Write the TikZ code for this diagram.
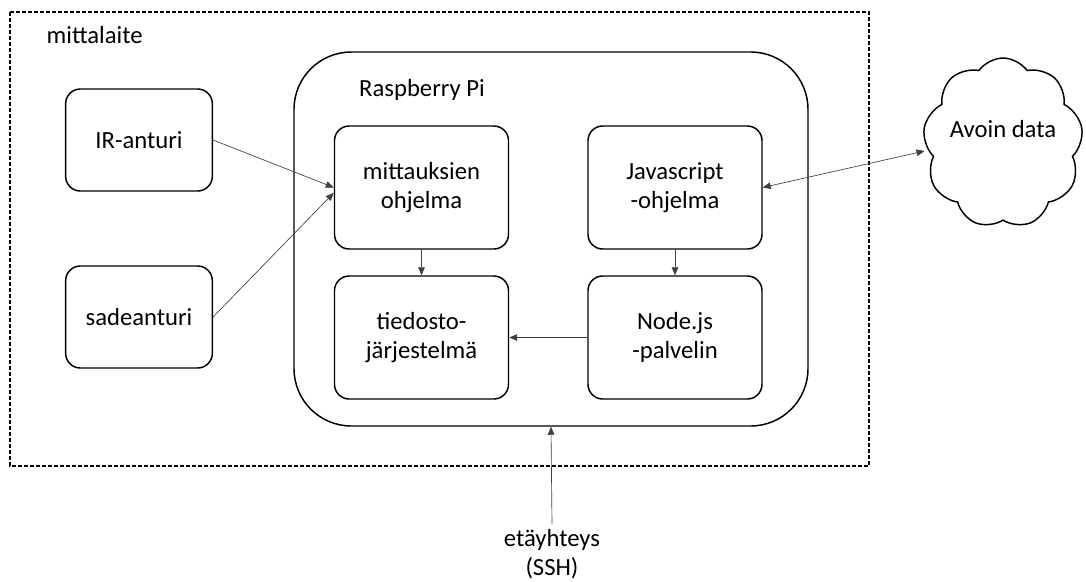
\documentclass[tikz,border=0pt]{standalone}
\usepackage{fontspec}
\setmainfont{Carlito}
\usetikzlibrary{arrows.meta,positioning,shapes.symbols}

\begin{document}
\begin{tikzpicture}
[x=0.75pt,y=-0.75pt,
 font=\fontsize{18.5}{22}\selectfont,
 box/.style={draw=black,line width=1.1pt,rounded corners=11pt,align=center},
 sensor/.style={box,minimum width=110pt,minimum height=76.5pt},
 prog/.style={box,minimum width=130.5pt,minimum height=92.25pt},
 link/.style={draw=black!75,line width=0.5pt,-{Triangle[length=6pt,width=5pt]}}]
\useasboundingbox (0,0) rectangle (1086,582);
\draw[line width=0.9pt,dash pattern=on 3pt off 1.5pt] (10,12) rectangle (869,466);
\node[anchor=west] (dev) at (42,35) {mittalaite};
\node[draw,line width=1.1pt,rounded corners=43pt,minimum width=385.5pt,minimum height=280.5pt] (rpi) at (551,239) {};
\node (rpilabel) at (422,90) {Raspberry Pi};
\node[sensor] (ir) at (139,140) {IR-anturi};
\node[sensor] (rain) at (139,317) {sadeanturi};
\node[prog] (meas) at (421.5,187.5) {mittauksien\\ohjelma};
\node[prog] (js) at (675,187.5) {Javascript\\-ohjelma};
\node[prog] (fs) at (421.5,337.5) {tiedosto-\\järjestelmä};
\node[prog] (srv) at (675,337.5) {Node.js\\-palvelin};
\node[cloud,draw,line width=1.1pt,cloud puffs=9,cloud puff arc=110,cloud ignores aspect,minimum width=120pt,minimum height=127.5pt] (cloud) at (1003,143) {};
\node (open) at (1003,129) {Avoin data};
\node[align=center] (ssh) at (552,554) {etäyhteys\\(SSH)};
\coordinate (meas2) at ([yshift=-4pt]meas.west);
\coordinate (cloudin) at ([yshift=-6pt]cloud.west);
\draw[link] (ir.east) -- (meas.west);
\draw[link] (rain.east) -- (meas2);
\draw[link] (meas) -- (fs);
\draw[link] (js) -- (srv);
\draw[link] (srv) -- (fs);
\draw[link,{Triangle[length=6pt,width=5pt]}-{Triangle[length=6pt,width=5pt]}] (js.east) -- (cloudin);
\draw[link] (ssh.north) -- (rpi.south);
\end{tikzpicture}
\end{document}
